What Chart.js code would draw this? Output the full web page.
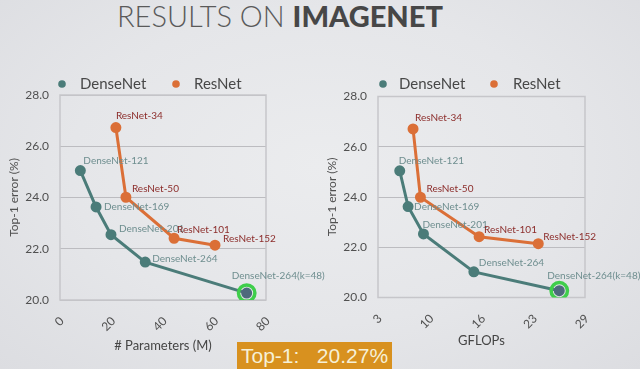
<!DOCTYPE html>
<html><head><meta charset="utf-8">
<script src="https://cdn.jsdelivr.net/npm/chart.js@4.4.1/dist/chart.umd.min.js"></script>
<style>
html,body{margin:0;padding:0;}
body{width:640px;height:369px;overflow:hidden;position:relative;background:radial-gradient(ellipse at 50% 45%, #ebecee 0%, #e5e6e9 55%, #dcdde1 100%);font-family:Lato,sans-serif;}
#title{position:absolute;left:117px;top:-2px;font-size:29px;line-height:36px;color:#5a5a5a;white-space:pre;}
#title .l{font-weight:300;}
#title .b{font-weight:900;color:#474747;}
canvas{position:absolute;left:0;top:0;}
#banner{position:absolute;left:237px;top:342px;width:155px;height:27px;background:#d8911f;color:#f6f0d6;font-family:"Liberation Sans",Arial,sans-serif;font-size:21px;line-height:28px;padding-left:4px;box-sizing:border-box;white-space:pre;}
</style></head>
<body>
<div id="title"><span class="l">RESULTS ON </span><span class="b">IMAGENET</span></div>
<canvas id="c1" width="640" height="369"></canvas>
<canvas id="c2" width="640" height="369"></canvas>
<div id="banner">Top-1:   20.27%</div>
<script>
// ---- data ----
const denseNames = ['DenseNet-121','DenseNet-169','DenseNet-201','DenseNet-264','DenseNet-264(k=48)'];
const resNames = ['ResNet-34','ResNet-50','ResNet-101','ResNet-152'];
const denseParams = [7.9, 14.0, 19.8, 33.1, 72.5];
const denseErrParams = [25.05, 23.63, 22.55, 21.48, 20.27];
const resParams = [21.7, 25.6, 44.3, 60.2];
const resErrParams = [26.73, 24.01, 22.41, 22.14];
const denseFlops = [5.73, 6.78, 8.71, 15.04, 25.77];
const denseErrFlops = [25.04, 23.62, 22.53, 21.02, 20.27];
const resFlops = [7.4, 8.33, 15.7, 23.13];
const resErrFlops = [26.71, 23.99, 22.42, 22.14];
const yTickLabels = ['20.0','22.0','24.0','26.0','28.0'];
const paramTickLabels = ['0','20','40','60','80'];
const flopTickLabels = ['3','10','16','23','29'];
const seriesNames = ['DenseNet','ResNet'];
const highlightIndex = 4;

// ---- styles ----
const TEAL = '#4b7c79', ORANGE = '#db6f37';
const DENSE_LBL = '#6e8e8f', RES_LBL = '#8c2d2b';
const FONT = 'Lato, "Open Sans", sans-serif';

const pts = (xs, ys) => xs.map((x, i) => ({x, y: ys[i]}));

const boxPlugin = {
  id: 'box',
  beforeDatasetsDraw(chart) {
    const a = chart.chartArea, c = chart.ctx;
    c.save(); c.strokeStyle = '#c6c6ca'; c.lineWidth = 1.5;
    c.strokeRect(a.left, a.top, a.right - a.left, a.bottom - a.top);
    c.restore();
  }
};
const labelPlugin = {
  id: 'ptLabels',
  afterDatasetsDraw(chart, args, opts) {
    const c = chart.ctx;
    c.save(); c.font = '10px ' + FONT; c.textAlign = 'left'; c.textBaseline = 'middle';
    [[0, denseNames, DENSE_LBL, opts.dense], [1, resNames, RES_LBL, opts.res]].forEach(([di, names, col, offs]) => {
      const meta = chart.getDatasetMeta(di);
      c.fillStyle = col;
      meta.data.forEach((p, j) => c.fillText(names[j], p.x + offs[j][0], p.y + offs[j][1]));
    });
    c.restore();
  }
};
const legendPlugin = {
  id: 'myLegend',
  afterDraw(chart, args, opts) {
    const c = chart.ctx;
    c.save(); c.font = '15px ' + FONT; c.textBaseline = 'middle'; c.textAlign = 'left';
    opts.items.forEach((it, i) => {
      const ds = chart.data.datasets[i];
      c.fillStyle = ds.borderColor; c.beginPath(); c.arc(it[0], opts.y, 3.8, 0, Math.PI * 2); c.fill();
      c.fillStyle = '#484848'; c.fillText(ds.label, it[1], opts.y);
    });
    c.restore();
  }
};

function makeChart(id, cfg) {
  const denseColors = cfg.dx.map((_, i) => i === highlightIndex ? '#4e6a7c' : TEAL);
  return new Chart(document.getElementById(id), {
    type: 'scatter',
    data: {
      datasets: [
        {label: seriesNames[0], data: pts(cfg.dx, cfg.dy), borderColor: TEAL, backgroundColor: denseColors,
         pointBackgroundColor: denseColors, pointBorderColor: denseColors, pointRadius: 4, borderWidth: 3, showLine: true, order: 1},
        {label: seriesNames[1], data: pts(cfg.rx, cfg.ry), borderColor: ORANGE, backgroundColor: ORANGE,
         pointRadius: 4, borderWidth: 3, showLine: true, order: 2},
        {label: 'highlight', data: [{x: cfg.dx[highlightIndex], y: cfg.dy[highlightIndex]}], showLine: false,
         pointRadius: 8.2, pointBorderWidth: 3.5, pointBorderColor: '#3fce4b', pointBackgroundColor: 'rgba(0,0,0,0)', order: 0}
      ]
    },
    options: {
      responsive: false, animation: false, events: [],
      layout: {padding: cfg.pad},
      plugins: {
        legend: {display: false}, tooltip: {enabled: false},
        ptLabels: {dense: cfg.dOff, res: cfg.rOff},
        myLegend: {y: 84, items: cfg.legend}
      },
      scales: {
        x: {
          type: 'linear', min: cfg.xmin, max: cfg.xmax,
          ticks: {stepSize: cfg.step, minRotation: 45, maxRotation: 45, padding: 6, labelOffset: 2,
                  color: '#505050', font: {family: FONT, size: 12},
                  callback: (v, i) => cfg.xLabels[i]},
          afterBuildTicks: s => { s.ticks = cfg.xLabels.map((_, i) => ({value: cfg.xmin + i * cfg.step})); },
          grid: {display: false}, border: {display: false},
          title: {display: true, text: cfg.xTitle, color: '#454545', font: {family: FONT, size: 13}, padding: {top: 0, bottom: cfg.xTitlePad}},
          afterFit: s => { s.height = cfg.xh; }
        },
        y: {
          min: 20, max: 28,
          ticks: {stepSize: 2, padding: 11, color: '#505050', font: {family: FONT, size: 12},
                  callback: (v, i) => yTickLabels[i]},
          grid: {color: '#bcbcc0', lineWidth: 1, drawTicks: false}, border: {display: false},
          title: {display: true, text: 'Top-1 error (%)', color: '#505050', font: {family: FONT, size: 12}, padding: {top: cfg.yTitlePad, bottom: 0}},
          afterFit: s => { s.width = cfg.yw; }
        }
      }
    },
    plugins: [boxPlugin, labelPlugin, legendPlugin]
  });
}

makeChart('c1', {
  dx: denseParams, dy: denseErrParams, rx: resParams, ry: resErrParams,
  xmin: 0, xmax: 80, step: 20, xLabels: paramTickLabels, xTitle: '# Parameters (M)',
  pad: {left: 0, right: 374, top: 95, bottom: 0}, xh: 69, yw: 60, xTitlePad: 15, yTitlePad: 7,
  dOff: [[3, -10], [8, 0], [8, -6], [7, -3], [-15, -17]],
  rOff: [[0, -12], [6, -8], [3, -8], [8, -6]],
  legend: [[62, 80], [176, 194]]
});
makeChart('c2', {
  dx: denseFlops, dy: denseErrFlops, rx: resFlops, ry: resErrFlops,
  xmin: 3, xmax: 29, step: 6.5, xLabels: flopTickLabels, xTitle: 'GFLOPs',
  pad: {left: 320, right: 55, top: 96.5, bottom: 0}, xh: 71.5, yw: 58, xTitlePad: 20, yTitlePad: 5,
  dOff: [[-1, -10], [6, 0], [-1, -9], [5, -9], [-12, -15]],
  rOff: [[2, -11], [6, -8], [5, -7], [5, -7]],
  legend: [[383, 399], [494, 513]]
});
</script>
</body></html>
